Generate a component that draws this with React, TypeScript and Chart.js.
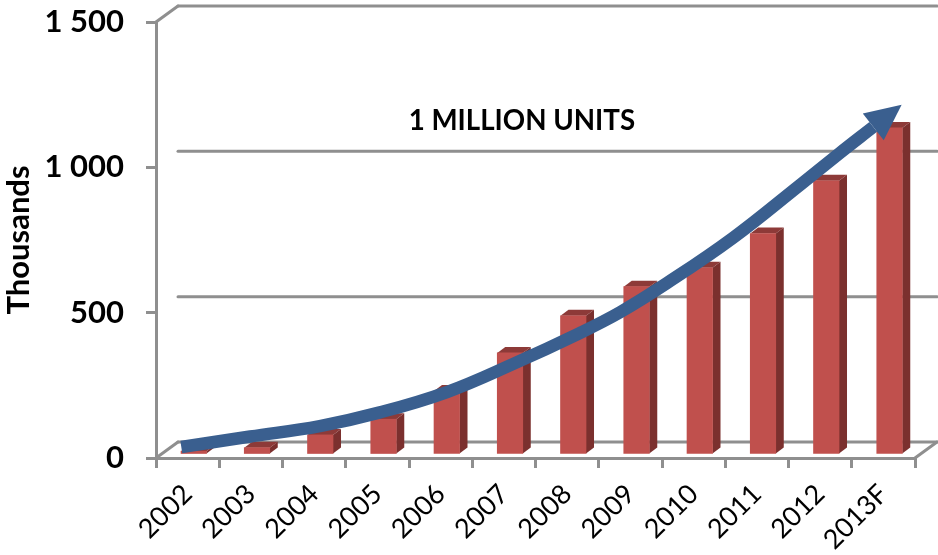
import React, { useEffect, useRef } from "react";
import { Chart, registerables } from "chart.js";

Chart.register(...registerables);

const categories = ["2002", "2003", "2004", "2005", "2006", "2007", "2008", "2009", "2010", "2011", "2012", "2013F"];
const units = [8, 20, 64, 118, 215, 346, 474, 574, 639, 757, 938, 1120];
// Trend arrow: position in category bands (0 to 12) and value
const arrowBand = [0.4, 1.49, 2.59, 3.54, 4.6, 5.64, 6.7, 7.34, 8.08, 9.12, 10.18, 10.81, 11.34];
const arrowValue = [38, 74, 110, 157, 227, 323, 430, 502, 602, 757, 939, 1049, 1139];
const yTicks = [0, 500, 1000, 1500];
const axisTitle = "Thousands";
const annotation = "1 MILLION UNITS";

const FONT = "Lato, Carlito, 'Open Sans', sans-serif";
const GRAY = "#8f8f8f";
const BLUE = "#3A5F8F";
const FRONT = "#C0504D";
const TOP = "#8D3A38";
const SIDE = "#7B302E";

const DEPTH_X = 22;
const DEPTH_Y = 16;
const BAR_DEPTH_X = 8;
const BAR_DEPTH_Y = 6;

const poly = (ctx: CanvasRenderingContext2D, pts: number[][], fill: string) => {
  ctx.beginPath();
  pts.forEach(([x, y], i) => (i ? ctx.lineTo(x, y) : ctx.moveTo(x, y)));
  ctx.closePath();
  ctx.fillStyle = fill;
  ctx.fill();
};

const walls = {
  id: "walls",
  beforeDatasetsDraw(chart: any) {
    const { ctx, chartArea: a, scales } = chart;
    const y = scales.y;
    ctx.save();
    ctx.strokeStyle = GRAY;
    ctx.lineWidth = 3;
    ctx.lineCap = "round";
    const seg = (x0: number, y0: number, x1: number, y1: number) => {
      ctx.beginPath();
      ctx.moveTo(x0, y0);
      ctx.lineTo(x1, y1);
      ctx.stroke();
    };
    yTicks.forEach((t) => {
      const py = y.getPixelForValue(t);
      seg(a.left + DEPTH_X, py - DEPTH_Y, a.right + DEPTH_X, py - DEPTH_Y);
    });
    const top = y.getPixelForValue(1500);
    const bot = y.getPixelForValue(0);
    seg(a.left, top, a.left + DEPTH_X, top - DEPTH_Y);
    seg(a.left, bot, a.left + DEPTH_X, bot - DEPTH_Y);
    seg(a.right, bot, a.right + DEPTH_X, bot - DEPTH_Y);
    ctx.restore();
  },
};

const bars3d = {
  id: "bars3d",
  beforeDatasetDraw(chart: any, args: any) {
    if (args.index !== 1) return;
    const { ctx } = chart;
    chart.getDatasetMeta(1).data.forEach((bar: any) => {
      const p = bar.getProps(["x", "y", "base", "width"], true);
      const l = p.x - p.width / 2;
      const r = p.x + p.width / 2;
      poly(ctx, [[l, p.y], [l + BAR_DEPTH_X, p.y - BAR_DEPTH_Y], [r + BAR_DEPTH_X, p.y - BAR_DEPTH_Y], [r, p.y]], TOP);
      poly(ctx, [[r, p.y], [r + BAR_DEPTH_X, p.y - BAR_DEPTH_Y], [r + BAR_DEPTH_X, p.base - BAR_DEPTH_Y], [r, p.base]], SIDE);
    });
  },
};

const arrowHead = {
  id: "arrowHead",
  afterDatasetsDraw(chart: any) {
    const { ctx, scales } = chart;
    const pts = chart.getDatasetMeta(0).data;
    const a = pts[pts.length - 2];
    const b = pts[pts.length - 1];
    const ang = Math.atan2(b.y - a.y, b.x - a.x);
    const ux = Math.cos(ang);
    const uy = Math.sin(ang);
    const len = 36;
    const half = 17;
    poly(
      ctx,
      [
        [b.x + ux * len, b.y + uy * len],
        [b.x - uy * half, b.y + ux * half],
        [b.x + uy * half, b.y - ux * half],
      ],
      BLUE
    );
    ctx.save();
    ctx.font = `bold 27.7px ${FONT}`;
    ctx.fillStyle = "#000";
    ctx.textAlign = "center";
    ctx.textBaseline = "middle";
    ctx.fillText(annotation, scales.x.getPixelForValue(5) + 18, scales.y.getPixelForValue(1160));
    ctx.restore();
  },
};

export default function App() {
  const ref = useRef<HTMLCanvasElement>(null);
  useEffect(() => {
    const chart = new Chart(ref.current as HTMLCanvasElement, {
      type: "bar",
      plugins: [walls, bars3d, arrowHead],
      data: {
        labels: categories,
        datasets: [
          {
            type: "line",
            data: arrowBand.map((b, i) => ({ x: b, y: arrowValue[i] })),
            xAxisID: "xBand",
            yAxisID: "y",
            borderColor: BLUE,
            borderWidth: 12.5,
            borderCapStyle: "butt",
            pointRadius: 0,
            tension: 0.4,
            clip: false,
            order: 0,
          },
          {
            type: "bar",
            data: units.map((v, i) => ({ x: i, y: v })),
            xAxisID: "xBar",
            yAxisID: "yBar",
            backgroundColor: FRONT,
            borderWidth: 0,
            barThickness: 25.5,
            grouped: false,
            order: 1,
          },
        ],
      } as any,
      options: {
        responsive: false,
        animation: false,
        devicePixelRatio: 1,
        layout: { padding: { top: 22, right: 23, left: 0, bottom: 0 } },
        plugins: { legend: { display: false }, tooltip: { enabled: false }, title: { display: false } },
        scales: {
          x: {
            type: "category",
            grid: { offset: true, drawOnChartArea: false, color: GRAY, lineWidth: 3, tickLength: 10 },
            border: { color: GRAY, width: 3 },
            ticks: {
              color: "#000",
              font: { family: FONT, size: 27 },
              minRotation: 45,
              maxRotation: 45,
              padding: 10,
              autoSkip: false,
            },
            afterFit(s: any) {
              s.height = 97;
              s.paddingLeft = 0;
              s.paddingRight = 0;
            },
          },
          xBand: { type: "linear", display: false, min: 0, max: 12, offset: false, bounds: "data" },
          xBar: { type: "linear", display: false, min: -0.597, max: 11.403, offset: false, bounds: "data" },
          y: {
            type: "linear",
            min: 0,
            max: 1500,
            grid: { drawOnChartArea: false, color: GRAY, lineWidth: 3, tickLength: 10 },
            border: { color: GRAY, width: 3 },
            ticks: {
              stepSize: 500,
              color: "#000",
              padding: 22,
              font: { family: FONT, size: 31, weight: "bold" },
              callback: (v: any) => String(v).replace(/\B(?=(\d{3})+$)/g, " "),
            },
            title: {
              display: true,
              text: axisTitle,
              color: "#000",
              padding: { top: 0, bottom: 0 },
              font: { family: FONT, size: 31, weight: "bold" },
            },
            afterFit(s: any) {
              s.width = 156;
              s.paddingTop = 0;
              s.paddingBottom = 0;
            },
          },
          yBar: { type: "linear", display: false, min: -15.5, max: 1484.5 },
        },
      },
    } as any);
    return () => chart.destroy();
  }, []);
  return (
    <div style={{ position: "absolute", left: 0, top: 0, width: 938, height: 555 }}>
      <canvas ref={ref} width={938} height={555} style={{ display: "block" }} />
    </div>
  );
}
